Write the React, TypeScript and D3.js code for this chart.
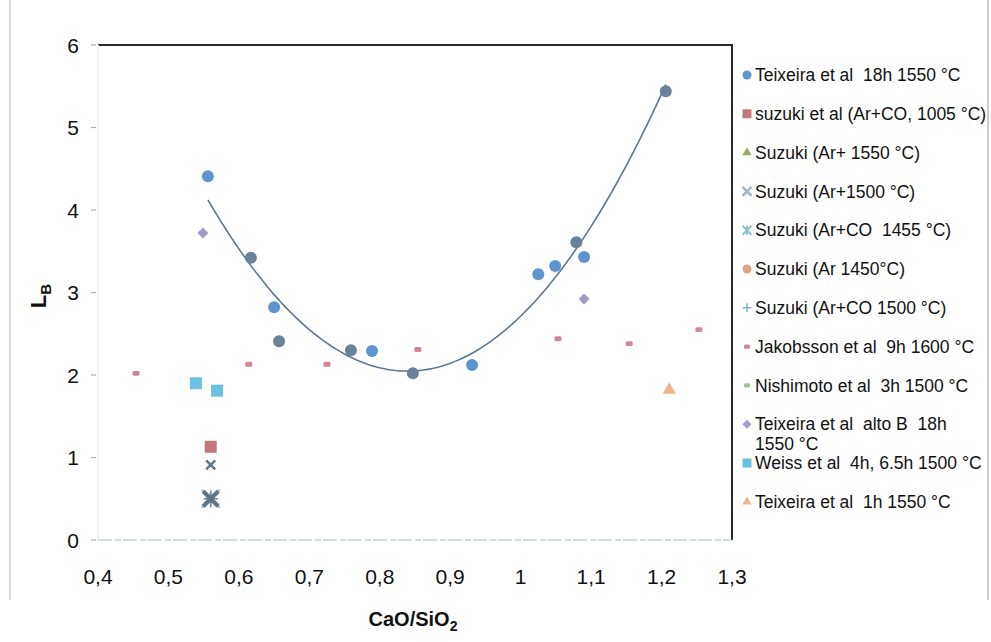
import * as d3 from 'd3'

// values
const xTicks = [0.4, 0.5, 0.6, 0.7, 0.8, 0.9, 1, 1.1, 1.2, 1.3]
const yTicks = [0, 1, 2, 3, 4, 5, 6]

const teixeiraX = [0.556, 0.65, 0.789, 0.931, 1.025, 1.049, 1.09]
const teixeiraY = [4.41, 2.82, 2.29, 2.12, 3.22, 3.32, 3.43]
// darker overlapping markers of the same set
const teixeiraDarkX = [0.617, 0.657, 0.759, 0.847, 1.079, 1.206]
const teixeiraDarkY = [3.42, 2.41, 2.3, 2.02, 3.61, 5.44]

const suzukiCOX = [0.56]
const suzukiCOY = [1.13]
const suzukiAr1500X = [0.56, 0.56]
const suzukiAr1500Y = [0.91, 0.5]
const suzukiCO1455X = [0.56]
const suzukiCO1455Y = [0.5]
const suzukiCO1500X = [0.56]
const suzukiCO1500Y = [0.5]

const jakobssonX = [0.454, 0.614, 0.725, 0.854, 1.053, 1.154, 1.253]
const jakobssonY = [2.02, 2.13, 2.13, 2.31, 2.44, 2.38, 2.55]

const altoBX = [0.549, 1.09]
const altoBY = [3.72, 2.92]

const weissX = [0.539, 0.569]
const weissY = [1.9, 1.81]

const teixeira1hX = [1.211]
const teixeira1hY = [1.82]

const legendLabels = [
  ['Teixeira et al  18h 1550 °C'],
  ['suzuki et al (Ar+CO, 1005 °C)'],
  ['Suzuki (Ar+ 1550 °C)'],
  ['Suzuki (Ar+1500 °C)'],
  ['Suzuki (Ar+CO  1455 °C)'],
  ['Suzuki (Ar 1450°C)'],
  ['Suzuki (Ar+CO 1500 °C)'],
  ['Jakobsson et al  9h 1600 °C'],
  ['Nishimoto et al  3h 1500 °C'],
  ['Teixeira et al  alto B  18h', '1550 °C'],
  ['Weiss et al  4h, 6.5h 1500 °C'],
  ['Teixeira et al  1h 1550 °C'],
]
const legendKinds = ['circle', 'square', 'triangle', 'x', 'star', 'circle', 'plus', 'dash', 'dash', 'diamond', 'square', 'triangle']
const legendColors = ['#5f95cf', '#c0787c', '#8fae6a', '#9fb6c6', '#8cc0d8', '#e3a37f', '#7fb0d4', '#d08890', '#9cc489', '#a598cc', '#6cc0e2', '#f0b488']

// quadratic least squares, like the spreadsheet trendline
function polyFit(xs: number[], ys: number[]) {
  const s = [0, 0, 0, 0, 0]
  const t = [0, 0, 0]
  xs.forEach((x, i) => {
    for (let k = 0; k < 5; k++) s[k] += x ** k
    for (let k = 0; k < 3; k++) t[k] += ys[i] * x ** k
  })
  const m = [
    [s[0], s[1], s[2], t[0]],
    [s[1], s[2], s[3], t[1]],
    [s[2], s[3], s[4], t[2]],
  ]
  for (let i = 0; i < 3; i++) {
    for (let j = i + 1; j < 3; j++) {
      const f = m[j][i] / m[i][i]
      for (let k = i; k < 4; k++) m[j][k] -= f * m[i][k]
    }
  }
  const c = [0, 0, 0]
  for (let i = 2; i >= 0; i--) {
    let v = m[i][3]
    for (let k = i + 1; k < 3; k++) v -= m[i][k] * c[k]
    c[i] = v / m[i][i]
  }
  return c
}

function Marker({ kind, x, y, size, color }: { kind: string; x: number; y: number; size: number; color: string }) {
  const h = size / 2
  if (kind === 'circle') return <circle cx={x} cy={y} r={h} fill={color} />
  if (kind === 'square') return <rect x={x - h} y={y - h} width={size} height={size} fill={color} />
  if (kind === 'triangle') {
    const p = d3.symbol(d3.symbolTriangle, size * size * 0.45)()
    return <path d={p || ''} transform={`translate(${x},${y})`} fill={color} />
  }
  if (kind === 'diamond') return <path d={`M${x},${y - h}L${x + h},${y}L${x},${y + h}L${x - h},${y}Z`} fill={color} />
  if (kind === 'dash') return <rect x={x - h} y={y - size * 0.35} width={size} height={size * 0.7} rx={1.5} fill={color} />
  if (kind === 'x')
    return (
      <path d={`M${x - h},${y - h}L${x + h},${y + h}M${x - h},${y + h}L${x + h},${y - h}`} stroke={color} strokeWidth={size * 0.28} />
    )
  if (kind === 'plus') return <path d={`M${x - h},${y}L${x + h},${y}M${x},${y - h}L${x},${y + h}`} stroke={color} strokeWidth={1.5} />
  // star: x plus vertical stroke
  return (
    <path
      d={`M${x - h},${y - h}L${x + h},${y + h}M${x - h},${y + h}L${x + h},${y - h}M${x},${y - h}L${x},${y + h}`}
      stroke={color}
      strokeWidth={2}
    />
  )
}

export default function App() {
  const width = 991
  const height = 642
  const x = d3.scaleLinear().domain([0.4, 1.3]).range([98, 732])
  const y = d3.scaleLinear().domain([0, 6]).range([540, 45])

  const allX = teixeiraX.concat(teixeiraDarkX)
  const allY = teixeiraY.concat(teixeiraDarkY)
  const coef = polyFit(allX, allY)
  const [x0, x1] = d3.extent(allX) as [number, number]
  const trendPts = d3.range(0, 101).map(i => {
    const v = x0 + ((x1 - x0) * i) / 100
    return [v, coef[0] + coef[1] * v + coef[2] * v * v] as [number, number]
  })
  const trend = d3
    .line<[number, number]>()
    .x(d => x(d[0]))
    .y(d => y(d[1]))(trendPts)

  const pts = (xs: number[], ys: number[]) => xs.map((v, i) => [x(v), y(ys[i])])

  return (
    <svg width={width} height={height} style={{ position: 'absolute', left: 0, top: 0, background: '#fff' }} fontFamily="'Liberation Sans', Arial, sans-serif">
      {/* outer frame traces */}
      <line x1={10} y1={0} x2={10} y2={600} stroke="#cfcfcf" strokeWidth={1.5} />
      <line x1={988} y1={0} x2={988} y2={600} stroke="#bdbdbd" strokeWidth={1.5} />

      {/* plot frame */}
      <path d={`M${x(0.4)},${y(6)}H${x(1.3)}V${y(0)}`} fill="none" stroke="#2a2a2a" strokeWidth={2} />
      <line x1={x(0.4)} y1={y(0)} x2={x(0.4)} y2={y(6)} stroke="#eef2f3" strokeWidth={2} />
      <line x1={x(0.4)} y1={y(0)} x2={x(1.3)} y2={y(0)} stroke="#a9bcc4" strokeWidth={1} strokeDasharray="14 3 6 2" />

      {yTicks.map(t => (
        <g key={t}>
          <line x1={x(0.4) - 7} x2={x(0.4) - 2} y1={y(t)} y2={y(t)} stroke="#9fb3bc" strokeWidth={1.2} />
          <text x={79} y={y(t)} dy="0.36em" textAnchor="end" fontSize={21} fill="#111">
            {t}
          </text>
        </g>
      ))}
      {xTicks.map(t => (
        <text key={t} x={x(t)} y={584} textAnchor="middle" fontSize={21} fill="#111">
          {String(t).replace('.', ',')}
        </text>
      ))}

      <text x={413} y={626} textAnchor="middle" fontSize={20} fontWeight="bold" fill="#111">
        CaO/SiO<tspan fontSize={14} dy={5}>2</tspan>
      </text>
      <text transform="translate(46,296) rotate(-90)" textAnchor="middle" fontSize={22} fontWeight="bold" fill="#111">
        L<tspan fontSize={15} dy={5}>B</tspan>
      </text>

      {/* trendline */}
      <path d={trend || ''} fill="none" stroke="#5b7893" strokeWidth={1.6} />

      {/* series */}
      {pts(jakobssonX, jakobssonY).map((p, i) => (
        <Marker key={'j' + i} kind="dash" x={p[0]} y={p[1]} size={7} color="#d08890" />
      ))}
      {pts(teixeiraX, teixeiraY).map((p, i) => (
        <Marker key={'t' + i} kind="circle" x={p[0]} y={p[1]} size={12} color="#5f95cf" />
      ))}
      {pts(teixeiraDarkX, teixeiraDarkY).map((p, i) => (
        <Marker key={'td' + i} kind="circle" x={p[0]} y={p[1]} size={12} color="#6a819a" />
      ))}
      {pts(altoBX, altoBY).map((p, i) => (
        <Marker key={'a' + i} kind="diamond" x={p[0]} y={p[1]} size={11} color="#a598cc" />
      ))}
      {pts(weissX, weissY).map((p, i) => (
        <Marker key={'w' + i} kind="square" x={p[0]} y={p[1]} size={12} color="#6cc0e2" />
      ))}
      {pts(suzukiCOX, suzukiCOY).map((p, i) => (
        <Marker key={'s' + i} kind="square" x={p[0]} y={p[1]} size={12} color="#c0787c" />
      ))}
      {pts(suzukiCO1455X, suzukiCO1455Y).map((p, i) => (
        <Marker key={'st' + i} kind="star" x={p[0]} y={p[1]} size={18} color="#8cc0d8" />
      ))}
      {pts(suzukiCO1500X, suzukiCO1500Y).map((p, i) => (
        <Marker key={'sp' + i} kind="plus" x={p[0]} y={p[1]} size={14} color="#6a819a" />
      ))}
      {pts(suzukiAr1500X, suzukiAr1500Y).map((p, i) => (
        <Marker key={'sx' + i} kind="x" x={p[0]} y={p[1]} size={i === 0 ? 9 : 15} color="#5f7688" />
      ))}
      {pts(teixeira1hX, teixeira1hY).map((p, i) => (
        <Marker key={'t1' + i} kind="triangle" x={p[0]} y={p[1]} size={13} color="#f0b488" />
      ))}

      {/* legend */}
      {legendLabels.map((lines, i) => {
        const ly = 75 + i * 38.8
        return (
          <g key={i}>
            <Marker kind={legendKinds[i]} x={747} y={ly} size={legendKinds[i] === 'dash' ? 6 : 9} color={legendColors[i]} />
            <text x={755} y={ly} fontSize={17.5} fill="#111" style={{ whiteSpace: 'pre' }}>
              {lines.map((l, k) => (
                <tspan key={k} x={755} dy={k === 0 ? '0.35em' : '1.1em'}>
                  {l}
                </tspan>
              ))}
            </text>
          </g>
        )
      })}
    </svg>
  )
}
